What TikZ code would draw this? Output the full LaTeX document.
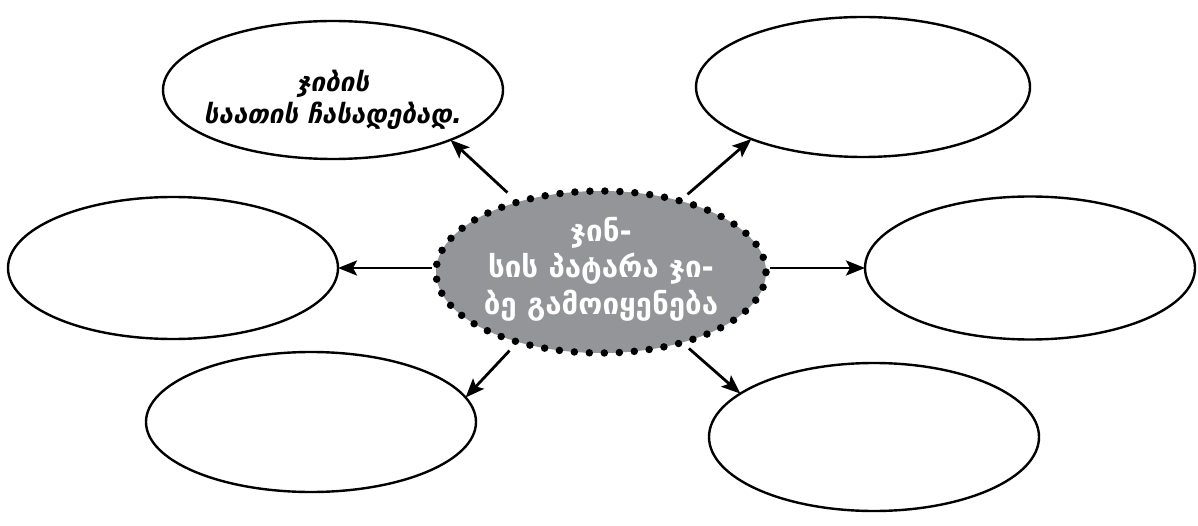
\documentclass[tikz,border=0pt]{standalone}
\usepackage{fontspec}
\setmainfont{DejaVu Sans}
\usetikzlibrary{shapes.geometric,arrows.meta,calc}
\definecolor{hubgray}{HTML}{939598}
\tikzset{
  oval/.style={ellipse, draw=black, line width=2.4pt, inner sep=0pt, outer sep=0pt},
  hub/.style={ellipse, fill=hubgray, inner sep=0pt, outer sep=0pt},
  dotring/.style={draw=black, line width=7.5pt, line cap=round, dash pattern=on 0pt off 15pt},
  link/.style={line width=2.8pt, -{Stealth[length=19pt,width=15pt,inset=4pt]}},
  hubtext/.style={text=white, align=center, font=\bfseries\fontsize{29.5}{36.5}\selectfont},
  ovaltext/.style={text=black, align=center, font=\bfseries\itshape\fontsize{26}{32}\selectfont},
}
\begin{document}
\begin{tikzpicture}[x=1pt,y=-1pt]
\useasboundingbox (0,0) rectangle (1198,526);
% outer ellipses
\node[oval, minimum width=340pt, minimum height=138pt] (tl) at (333,90) {};
\node[oval, minimum width=334pt, minimum height=140pt] (tr) at (863,87) {};
\node[oval, minimum width=330pt, minimum height=142pt] (ml) at (173,268) {};
\node[oval, minimum width=330pt, minimum height=143pt] (mr) at (1030,268) {};
\node[oval, minimum width=330pt, minimum height=140pt] (bl) at (311,422) {};
\node[oval, minimum width=330pt, minimum height=148pt] (br) at (874,437) {};
\node[ovaltext] (tltext) at (333,100) {ჯიბის\\საათის ჩასადებად.};
% hub
\node[hub, minimum width=330pt, minimum height=162pt] (c) at (601,272) {};
\draw[dotring] (c.center) ellipse [x radius=165pt, y radius=81pt];
\node[hubtext] (ctext) at (601,269) {ჯინ-\\სის პატარა ჯი-\\ბე გამოიყენება};
% connectors
\draw[link] ($(c.140.3)!14pt!(tl.-23.5)$) -- (tl.-23.5);
\draw[link] ($(c.42.9)!10pt!(tr.-155)$) -- (tr.-155);
\draw[link] ($(c.west |- ml.east)!4pt!(ml.east)$) -- (ml.east);
\draw[link] ($(c.east |- mr.west)!4pt!(mr.west)$) -- (mr.west);
\draw[link] ($(c.-140)!12pt!(bl.9.6)$) -- (bl.9.6);
\draw[link] ($(c.-41.5)!9pt!(br.162.7)$) -- (br.162.7);
\end{tikzpicture}
\end{document}
